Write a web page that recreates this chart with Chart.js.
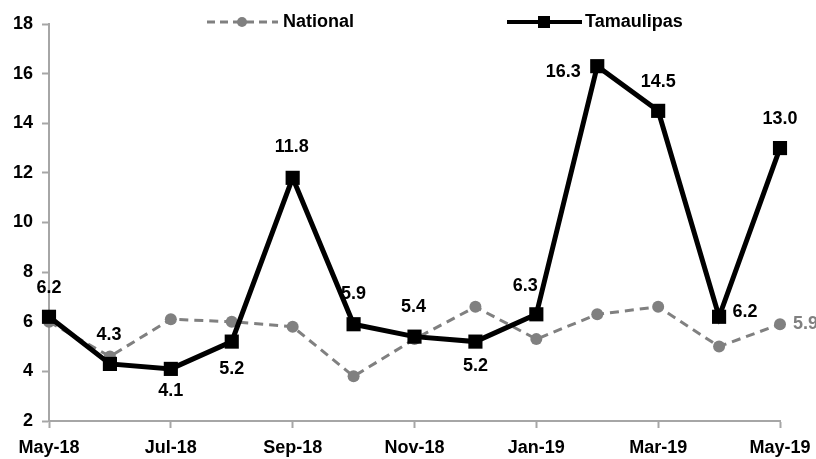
<!DOCTYPE html>
<html>
<head>
<meta charset="utf-8">
<script src="https://cdn.jsdelivr.net/npm/chart.js@4"></script>
<style>
  html, body { margin: 0; padding: 0; background: #fff; }
  #wrap { width: 816px; height: 459px; position: relative; }
</style>
</head>
<body>
<div id="wrap"><canvas id="rateChart"></canvas></div>
<script>
// data
const months = ['May-18', 'Jun-18', 'Jul-18', 'Aug-18', 'Sep-18', 'Oct-18', 'Nov-18',
                'Dec-18', 'Jan-19', 'Feb-19', 'Mar-19', 'Apr-19', 'May-19'];
const national = [6.0, 4.6, 6.1, 6.0, 5.8, 3.8, 5.3, 6.6, 5.3, 6.3, 6.6, 5.0, 5.9];
const tamaulipas = [6.2, 4.3, 4.1, 5.2, 11.8, 5.9, 5.4, 5.2, 6.3, 16.3, 14.5, 6.2, 13.0];
const yTicks = [2, 4, 6, 8, 10, 12, 14, 16, 18];

const FONT = "'Liberation Sans Narrow', 'Arial Narrow', 'Liberation Sans', Arial, sans-serif";
const GREY = '#808080';
const AXIS = '#a6a6a6';

// where each Tamaulipas label sits relative to its point
const labelOffsets = [
  [0, -29], [-1, -29], [0, 22], [0, 27], [-1, -31], [0, -30], [-1, -30],
  [0, 24], [-11, -28], [-34, 6], [0, -29], [26, -5], [0, -29]
];

const valueLabels = {
  id: 'valueLabels',
  afterDatasetsDraw(chart) {
    const ctx = chart.ctx;
    ctx.save();
    ctx.font = 'bold 18px ' + FONT;
    ctx.textBaseline = 'middle';
    const tm = chart.getDatasetMeta(1);
    ctx.fillStyle = '#000';
    ctx.textAlign = 'center';
    tm.data.forEach(function(pt, i) {
      const off = labelOffsets[i];
      ctx.fillText(tamaulipas[i].toFixed(1), pt.x + off[0], pt.y + off[1]);
    });
    // only the last national point is labelled
    const nm = chart.getDatasetMeta(0);
    const last = nm.data[nm.data.length - 1];
    ctx.fillStyle = GREY;
    ctx.textAlign = 'left';
    ctx.fillText(national[national.length - 1].toFixed(1), last.x + 13, last.y);
    ctx.restore();
  }
};

// legend with a line + marker sample, like the office chart
const lineLegend = {
  id: 'lineLegend',
  afterDraw(chart) {
    const ctx = chart.ctx;
    const y = 22;
    ctx.save();
    // National
    ctx.strokeStyle = GREY;
    ctx.lineWidth = 3;
    ctx.setLineDash([8, 5]);
    ctx.beginPath(); ctx.moveTo(207, y); ctx.lineTo(278, y); ctx.stroke();
    ctx.setLineDash([]);
    ctx.fillStyle = GREY;
    ctx.beginPath(); ctx.arc(242, y, 5, 0, Math.PI * 2); ctx.fill();
    // Tamaulipas
    ctx.strokeStyle = '#000';
    ctx.lineWidth = 4;
    ctx.beginPath(); ctx.moveTo(507, y); ctx.lineTo(582, y); ctx.stroke();
    ctx.fillStyle = '#000';
    ctx.fillRect(538, y - 6, 12, 12);
    // texts
    ctx.font = 'bold 18px ' + FONT;
    ctx.textBaseline = 'middle';
    ctx.textAlign = 'left';
    ctx.fillText('National', 283, y);
    ctx.fillText('Tamaulipas', 585, y);
    ctx.restore();
  }
};

new Chart(document.getElementById('rateChart').getContext('2d'), {
  type: 'line',
  data: {
    labels: months,
    datasets: [{
      label: 'National',
      data: national,
      borderColor: GREY,
      borderWidth: 3,
      borderDash: [9, 6],
      pointRadius: 6,
      pointBackgroundColor: GREY,
      pointBorderWidth: 0,
      tension: 0,
      order: 2
    }, {
      label: 'Tamaulipas',
      data: tamaulipas,
      borderColor: '#000',
      borderWidth: 5,
      pointStyle: 'rect',
      pointRadius: 10,
      pointBackgroundColor: '#000',
      pointBorderWidth: 0,
      tension: 0,
      order: 1
    }]
  },
  options: {
    responsive: true,
    maintainAspectRatio: false,
    animation: false,
    layout: { padding: { left: 0, right: 36, top: 24, bottom: 0 } },
    plugins: {
      legend: { display: false },
      tooltip: { enabled: false }
    },
    scales: {
      x: {
        offset: false,
        afterFit: function(s) { s.height = 38; s.paddingRight = 20; s.paddingLeft = 20; },
        border: { color: AXIS, width: 2 },
        grid: {
          drawOnChartArea: false,
          tickLength: 7,
          tickWidth: 2,
          color: function(c) { return c.index % 2 === 0 ? AXIS : 'rgba(0,0,0,0)'; }
        },
        ticks: {
          autoSkip: false,
          maxRotation: 0,
          padding: 9,
          color: '#000',
          font: { family: FONT, size: 18, weight: 'bold' },
          callback: function(v, i) { return i % 2 === 0 ? months[i] : ''; }
        }
      },
      y: {
        min: yTicks[0],
        max: yTicks[yTicks.length - 1],
        afterFit: function(s) { s.width = 49; },
        afterBuildTicks: function(s) { s.ticks = yTicks.map(v => ({ value: v })); },
        border: { color: AXIS, width: 2 },
        grid: { drawOnChartArea: false, tickLength: 7, tickWidth: 2, color: AXIS },
        ticks: {
          padding: 9,
          color: '#000',
          font: { family: FONT, size: 18, weight: 'bold' }
        }
      }
    }
  },
  plugins: [valueLabels, lineLegend]
});
</script>
</body>
</html>
